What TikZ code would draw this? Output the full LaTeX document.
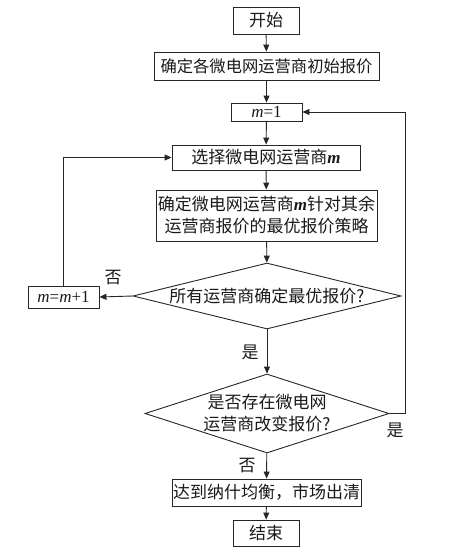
\documentclass[tikz,border=0pt]{standalone}
\usepackage{fontspec}
\setmainfont{Liberation Serif}
\newfontfamily\cj{Noto Sans CJK SC}
\usetikzlibrary{shapes.geometric,arrows.meta}
\tikzset{
  box/.style={draw=black!85, line width=0.9pt, rectangle, inner sep=0pt, align=center, font=\cj\fontsize{17}{22}\selectfont, text=black!90},
  dia/.style={draw=black!85, line width=0.9pt, diamond, inner sep=0pt, align=center, font=\cj\fontsize{17}{22}\selectfont, text=black!90},
  conn/.style={draw=black!85, line width=0.9pt, -{Triangle[length=7pt,width=6pt]}},
  lbl/.style={font=\cj\fontsize{17}{20}\selectfont, text=black!90, inner sep=0pt},
}
\begin{document}
\begin{tikzpicture}[x=1pt,y=-1pt]
\useasboundingbox (0,0) rectangle (468,552);
\node[box, minimum width=66pt, minimum height=27pt] (start) at (266,20.5) {开始};
\node[box, minimum width=225pt, minimum height=28pt] (init) at (266.5,66) {\fontsize{16.3}{20}\selectfont 确定各微电网运营商初始报价};
\node[box, minimum width=71pt, minimum height=18pt, font=\fontsize{17}{20}\selectfont] (m1) at (266.5,112) {\textit{m}=1};
\node[box, minimum width=188pt, minimum height=25pt] (sel) at (266,157.5) {选择微电网运营商{\rmfamily\textit{\textbf{m}}}};
\node[box, minimum width=221pt, minimum height=51pt] (best) at (266.5,215.5) {确定微电网运营商{\rmfamily\textit{\textbf{m}}}针对其余\\运营商报价的最优报价策略};
\node[dia, shape aspect=4, minimum width=268pt, minimum height=66pt] (d1) at (267,296) {所有运营商确定最优报价?};
\node[box, minimum width=71pt, minimum height=22pt, font=\fontsize{17}{20}\selectfont] (mm) at (63.5,297) {\textit{m}=\textit{m}+1};
\node[dia, shape aspect=3.09, minimum width=244pt, minimum height=79pt] (d2) at (267,413.5) {是否存在微电网\\运营商改变报价?};
\node[box, minimum width=189pt, minimum height=27pt] (eq) at (266.5,492.5) {达到纳什均衡，市场出清};
\node[box, minimum width=66pt, minimum height=26pt] (end) at (266,533) {结束};
\coordinate (ltop) at (63,158);
\coordinate (rbot) at (405,413.5);
\coordinate (rtop) at (405,112);
\draw[conn] (start) -- (init);
\draw[conn] (init) -- (m1);
\draw[conn] (m1) -- (sel);
\draw[conn] (sel) -- (best);
\draw[conn] (best) -- (d1);
\draw[conn] (d1) -- (d2);
\draw[conn] (d2) -- (eq);
\draw[conn] (eq) -- (end);
\draw[conn] (d1.west) -- (mm.east);
\draw[conn] (mm.north) |- (sel.west);
\draw[conn] (d2.east) -- (rbot) -- (rtop) -- (m1.east);
\node[lbl] (n1) at (113,278) {否};
\node[lbl] (y1) at (250,352) {是};
\node[lbl] (y2) at (395,430) {是};
\node[lbl] (n2) at (247,466) {否};
\end{tikzpicture}
\end{document}
